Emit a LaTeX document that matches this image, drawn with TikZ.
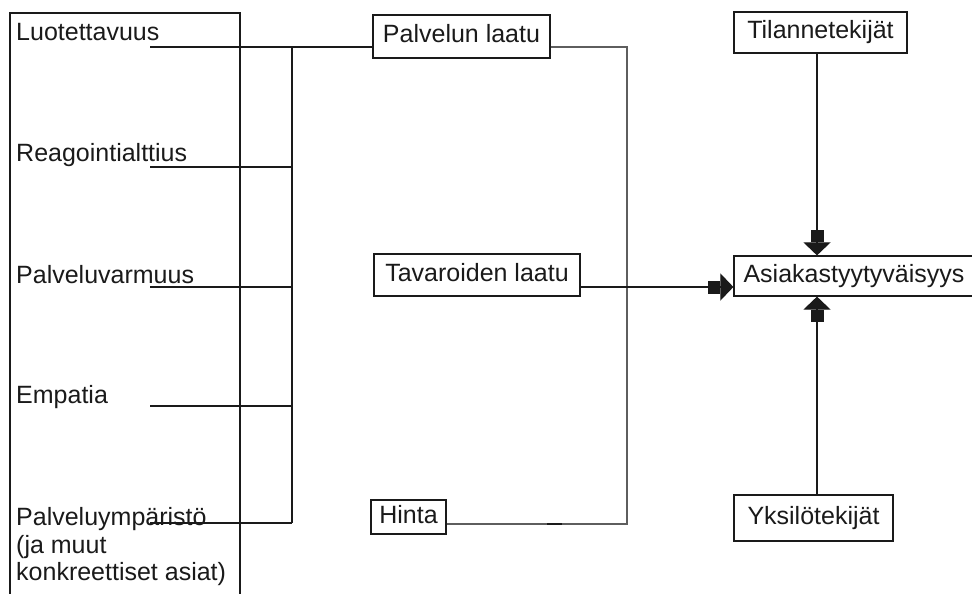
\documentclass[tikz,border=0pt]{standalone}
\usepackage{fontspec}
\setmainfont{Liberation Sans}
\usetikzlibrary{arrows.meta}
\definecolor{ink}{HTML}{1A1A1A}
\definecolor{wire}{HTML}{5E5E5E}
\begin{document}
\begin{tikzpicture}[x=1pt,y=-1pt,
  txt/.style={font=\fontsize{25}{27.5}\selectfont, text=ink, inner sep=0pt},
  box/.style={txt, draw=ink, line width=1.2pt, text height=18pt, text depth=6pt},
  lead/.style={draw=ink, line width=1.1pt},
  feed/.style={draw=wire, line width=1.4pt},
  blockarrow/.style={-{Rectangle[length=12pt,width=13pt] Triangle[length=13pt,width=27pt]}}
]
\useasboundingbox (0,0) rectangle (972,594);

% frame around the service-quality dimensions
\draw[ink, line width=1.2pt] (10,13) rectangle (240,600);

% dimension labels
\node[txt, anchor=base west] (luo) at (16,41) {Luotettavuus};
\node[txt, anchor=base west] (rea) at (16,161) {Reagointialttius};
\node[txt, anchor=base west] (var) at (16,283) {Palveluvarmuus};
\node[txt, anchor=base west] (emp) at (16,403) {Empatia};
\node[txt, anchor=base west] (ymp) at (16,525) {Palveluympäristö};
\node[txt, anchor=base west] (ymp2) at (16,553) {(ja muut};
\node[txt, anchor=base west] (ymp3) at (16,580) {konkreettiset asiat)};

% middle boxes
\node[box, minimum width=177pt, minimum height=43pt] (pal) at (461.5,36.5) {Palvelun laatu};
\node[box, minimum width=206pt, minimum height=42pt] (tav) at (477,275) {Tavaroiden laatu};
\node[box, minimum width=75pt, minimum height=34pt] (hin) at (408.5,517) {Hinta};

% right boxes
\node[box, minimum width=173pt, minimum height=41pt] (til) at (820.5,32.5) {Tilannetekijät};
\node[box, minimum width=240pt, minimum height=40pt] (asi) at (854,276) {Asiakastyytyväisyys};
\node[box, minimum width=159pt, minimum height=46pt] (yks) at (813.5,518) {Yksilötekijät};

% lead-in lines and collecting bus
\coordinate (c1) at (150,47);
\coordinate (c2) at (150,167);
\coordinate (c3) at (150,287);
\coordinate (c4) at (150,406);
\coordinate (c5) at (150,523);
\coordinate (bus) at (292,0);
\draw[lead] (c1) -- (c1 -| pal.west);
\draw[lead] (c2) -- (c2 -| bus);
\draw[lead] (c3) -- (c3 -| bus);
\draw[lead] (c4) -- (c4 -| bus);
\draw[lead] (c5) -- (c5 -| bus);
\draw[lead] (c1 -| bus) -- (c5 -| bus);

% grey bracket joining quality and price
\coordinate (rt) at (627,47);
\coordinate (rb) at (627,524);
\draw[feed] (rt -| pal.east) -- (rt) -- (rb) -- (rb -| hin.east);
\coordinate (d1) at (547,524);
\coordinate (d2) at (562,524);
\draw[ink, line width=1.5pt] (d1) -- (d2);

% arrows into customer satisfaction
\coordinate (ax) at (817,0);
\coordinate (ay) at (0,287);
\draw[lead, blockarrow] (ay -| tav.east) -- (ay -| asi.west);
\draw[lead, blockarrow] (ax |- til.south) -- (ax |- asi.north);
\draw[lead, blockarrow] (ax |- yks.north) -- (ax |- asi.south);
\end{tikzpicture}
\end{document}
